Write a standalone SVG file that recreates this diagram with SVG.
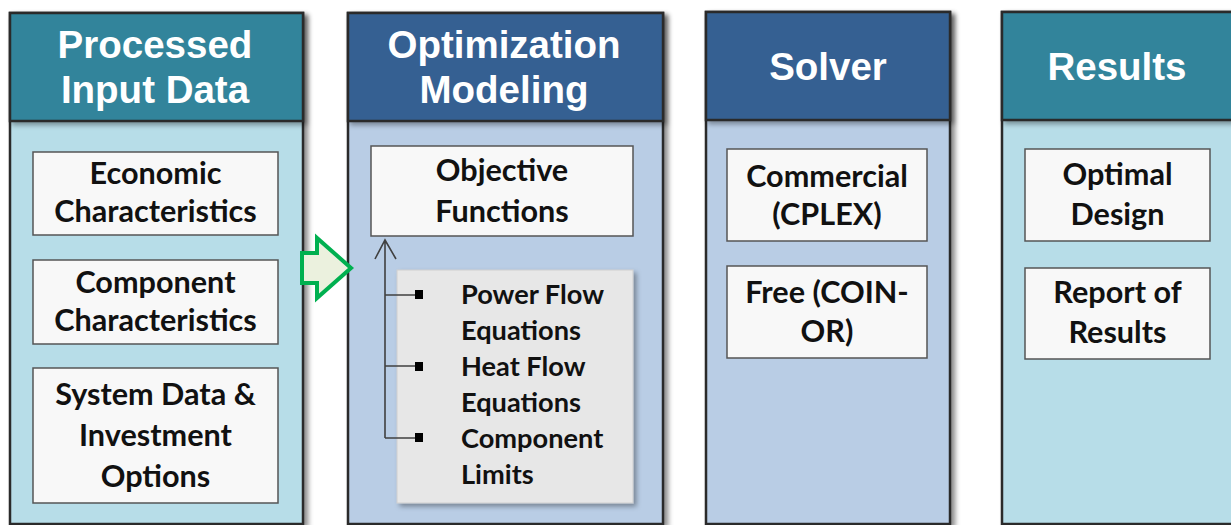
<svg xmlns="http://www.w3.org/2000/svg" width="1231" height="525" viewBox="0 0 1231 525">
<defs>
<filter id="sh" x="-10%" y="-10%" width="130%" height="130%">
<feDropShadow dx="4" dy="3" stdDeviation="2.5" flood-color="#000" flood-opacity="0.45"/>
</filter>
<filter id="sh2" x="-10%" y="-10%" width="130%" height="130%">
<feDropShadow dx="3" dy="3" stdDeviation="2.5" flood-color="#000" flood-opacity="0.35"/>
</filter>
</defs>
<style>
.col{stroke:#2b2b2b;stroke-width:2.5}
.teal{fill:#31849B}
.tealb{fill:#B7DDE8}
.blue{fill:#366092}
.blueb{fill:#B9CDE5}
.hd{font-family:"Liberation Sans",Arial,sans-serif;font-weight:bold;font-size:38.5px;fill:#fff;text-anchor:middle}
.box{fill:#F8F8F8;stroke:#555;stroke-width:1.5}
.bt{font-family:Lato,"Noto Sans",sans-serif;font-weight:bold;font-size:30.6px;fill:#111;text-anchor:middle}
.li{font-family:Lato,"Noto Sans",sans-serif;font-weight:bold;font-size:27.2px;fill:#111}
.cn{fill:none;stroke:#404040;stroke-width:1.6}
</style>
<rect width="1231" height="525" fill="#fff"/>

<g id="col-input">
<rect x="10" y="13" width="293" height="511" class="col tealb" filter="url(#sh)"/>
<rect x="10" y="13" width="293" height="108" class="col teal" filter="url(#sh2)"/>
<text class="hd" x="155" y="58">Processed</text>
<text class="hd" x="155" y="103">Input Data</text>
</g>
<g id="node-economic">
<rect x="33" y="152" width="245" height="83" class="box"/>
<text class="bt" x="155.5" y="184">Economic</text>
<text class="bt" x="155.5" y="222">Characteristics</text>
</g>
<g id="node-component">
<rect x="33" y="260" width="245" height="84" class="box"/>
<text class="bt" x="155.5" y="293">Component</text>
<text class="bt" x="155.5" y="331">Characteristics</text>
</g>
<g id="node-system">
<rect x="33" y="368" width="245" height="135" class="box"/>
<text class="bt" x="155.5" y="405">System Data &amp;</text>
<text class="bt" x="155.5" y="446">Investment</text>
<text class="bt" x="155.5" y="487">Options</text>
</g>

<g id="col-model">
<rect x="348" y="13" width="315" height="511" class="col blueb" filter="url(#sh)"/>
<rect x="348" y="13" width="315" height="108" class="col blue" filter="url(#sh2)"/>
<text class="hd" x="504" y="58">Optimization</text>
<text class="hd" x="504" y="103">Modeling</text>
</g>
<g id="node-objective">
<rect x="371" y="146" width="262" height="90" class="box"/>
<text class="bt" x="502" y="181">Objective</text>
<text class="bt" x="502" y="222">Functions</text>
</g>
<g id="node-constraints">
<rect x="397" y="270" width="236" height="233" fill="#E7E7E7" stroke="#cfcfcf" stroke-width="1" filter="url(#sh2)"/>
<text class="li" x="461" y="304">Power Flow</text>
<text class="li" x="461" y="340">Equations</text>
<text class="li" x="461" y="376">Heat Flow</text>
<text class="li" x="461" y="412">Equations</text>
<text class="li" x="461" y="448">Component</text>
<text class="li" x="461" y="484">Limits</text>
</g>

<g id="col-solver">
<rect x="706" y="12" width="244" height="512" class="col blueb" filter="url(#sh)"/>
<rect x="706" y="12" width="244" height="108" class="col blue" filter="url(#sh2)"/>
<text class="hd" x="828" y="80">Solver</text>
</g>
<g id="node-commercial">
<rect x="727" y="149" width="200" height="92" class="box"/>
<text class="bt" x="827" y="187">Commercial</text>
<text class="bt" x="827" y="225">(CPLEX)</text>
</g>
<g id="node-free">
<rect x="727" y="266" width="200" height="92" class="box"/>
<text class="bt" x="827" y="303">Free (COIN-</text>
<text class="bt" x="827" y="342">OR)</text>
</g>

<g id="col-results">
<rect x="1002" y="12" width="240" height="512" class="col tealb" filter="url(#sh)"/>
<rect x="1002" y="12" width="240" height="108" class="col teal" filter="url(#sh2)"/>
<text class="hd" x="1117" y="80">Results</text>
</g>
<g id="node-optimal">
<rect x="1025" y="149" width="185" height="92" class="box"/>
<text class="bt" x="1117.5" y="185">Optimal</text>
<text class="bt" x="1117.5" y="225">Design</text>
</g>
<g id="node-report">
<rect x="1025" y="268" width="185" height="91" class="box"/>
<text class="bt" x="1117.5" y="303">Report of</text>
<text class="bt" x="1117.5" y="343">Results</text>
</g>

<g id="connectors">
<polygon points="302,253 317,253 317,238 351,268 317,298 317,283 302,283" fill="#EBF1DE" stroke="#00B050" stroke-width="4" stroke-linejoin="miter"/>
<path class="cn" d="M385,438 V240 M375,259 L385,240 L396,259 M385,295 H416 M385,366 H416 M385,438 H416"/>
<rect x="415" y="290" width="8" height="9" fill="#000"/>
<rect x="415" y="362" width="8" height="9" fill="#000"/>
<rect x="415" y="433" width="8" height="9" fill="#000"/>
</g>
</svg>
